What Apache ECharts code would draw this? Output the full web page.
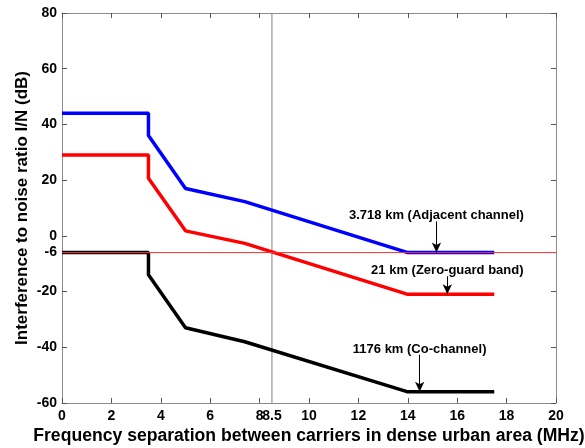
<!DOCTYPE html>
<html>
<head>
<meta charset="utf-8">
<script src="https://cdn.jsdelivr.net/npm/echarts@6/dist/echarts.min.js"></script>
<style>
  html, body { margin: 0; padding: 0; background: #fff; }
  #chart { width: 585px; height: 448px; }
</style>
</head>
<body>
<div id="chart"></div>
<script>
// curves: [MHz, dB]
const adjacent = [[0, 44], [3.5, 44], [3.5, 36], [5, 17], [7.4, 12.3], [14, -6], [17.5, -6]];
const zeroGuard = [[0, 29], [3.5, 29], [3.5, 20.7], [5, 1.8], [7.4, -2.7], [14, -21], [17.5, -21]];
const coChannel = [[0, -6], [3.5, -6], [3.5, -14], [5, -33], [7.4, -38], [14, -56], [17.5, -56]];

const xRange = [0, 20];
const yRange = [-60, 80];
const xTickValues = [0, 2, 4, 6, 8, 10, 12, 14, 16, 18, 20];
const xLabelValues = [0, 2, 4, 6, 8, 8.5, 10, 12, 14, 16, 18, 20];
const yTickValues = [-60, -40, -20, 0, 20, 40, 60, 80];
const yLabelValues = [-60, -40, -20, -6, 0, 20, 40, 60, 80];

const thresholdDb = -6;
const markerMHz = 8.5;

// annotations: text, arrow x, arrow tail y, arrow head y
const notes = [
  { text: "3.718 km (Adjacent channel)", x: 15.16, from: 5.2, to: -6 },
  { text: "21 km (Zero-guard band)", x: 15.6, from: -14.5, to: -21 },
  { text: "1176 km (Co-channel)", x: 14.48, from: -42.7, to: -56 },
];

const font = "Liberation Sans, Arial, sans-serif";
const frame = "#8c8c8c";

const chart = echarts.init(document.getElementById("chart"), null, { renderer: "canvas" });

function xAxisBase(pos, withLabels) {
  return {
    type: "value",
    position: pos,
    min: xRange[0],
    max: xRange[1],
    interval: 2,
    axisLine: { show: true, onZero: false, lineStyle: { color: frame, width: 1 } },
    axisTick: { show: true, inside: true, length: 5, customValues: xTickValues, lineStyle: { color: "#555" } },
    axisLabel: withLabels
      ? { show: true, customValues: xLabelValues, color: "#000", fontWeight: "bold", fontSize: 14, fontFamily: font, margin: 6 }
      : { show: false },
    splitLine: { show: false },
  };
}

function yAxisBase(pos, withLabels) {
  return {
    type: "value",
    position: pos,
    min: yRange[0],
    max: yRange[1],
    interval: 20,
    axisLine: { show: true, onZero: false, lineStyle: { color: frame, width: 1 } },
    axisTick: { show: true, inside: true, length: 5, customValues: yTickValues, lineStyle: { color: "#555" } },
    axisLabel: withLabels
      ? { show: true, customValues: yLabelValues, color: "#000", fontWeight: "bold", fontSize: 14, fontFamily: font, margin: 5 }
      : { show: false },
    splitLine: { show: false },
  };
}

const xMain = xAxisBase("bottom", true);
xMain.name = "Frequency separation between carriers in dense urban area (MHz)";
xMain.nameLocation = "middle";
xMain.nameGap = 24;
xMain.nameMoveOverlap = false;
xMain.nameTextStyle = { color: "#000", fontWeight: "bold", fontSize: 17.6, fontFamily: font };

const yMain = yAxisBase("left", true);
yMain.name = "Interference to noise ratio I/N (dB)";
yMain.nameLocation = "middle";
yMain.nameGap = 31;
yMain.nameMoveOverlap = false;
yMain.nameTextStyle = { color: "#000", fontWeight: "bold", fontSize: 17, fontFamily: font };

function curve(data, color, width, z) {
  return {
    type: "line",
    data,
    showSymbol: false,
    lineStyle: { color, width },
    itemStyle: { color },
    emphasis: { disabled: true },
    z,
  };
}

chart.setOption({
  animation: false,
  backgroundColor: "#fff",
  grid: { left: 62, right: 29, top: 13, bottom: 45, outerBoundsMode: "none", containLabel: false },
  xAxis: [xMain, xAxisBase("top", false)],
  yAxis: [yMain, yAxisBase("right", false)],
  series: [
    curve([[markerMHz, yRange[0]], [markerMHz, yRange[1]]], "#808080", 1, 2),
    curve(zeroGuard, "#ff0000", 3.5, 3),
    curve(coChannel, "#000000", 3.5, 3),
    curve(adjacent, "#0000ff", 3.5, 3),
    curve([[xRange[0], thresholdDb], [xRange[1], thresholdDb]], "#ff3030", 1, 4),
    {
      type: "line",
      data: [],
      z: 5,
      markLine: {
        silent: true,
        animation: false,
        symbol: ["none", "arrow"],
        symbolSize: [7, 10],
        lineStyle: { color: "#000", width: 1, type: "solid" },
        label: {
          show: true,
          position: "start",
          distance: -1,
          color: "#000",
          fontWeight: "bold",
          fontSize: 13,
          fontFamily: font,
        },
        data: notes.map((n) => [
          { coord: [n.x, n.from], name: n.text, label: { formatter: n.text } },
          { coord: [n.x, n.to] },
        ]),
      },
    },
  ],
});
</script>
</body>
</html>
